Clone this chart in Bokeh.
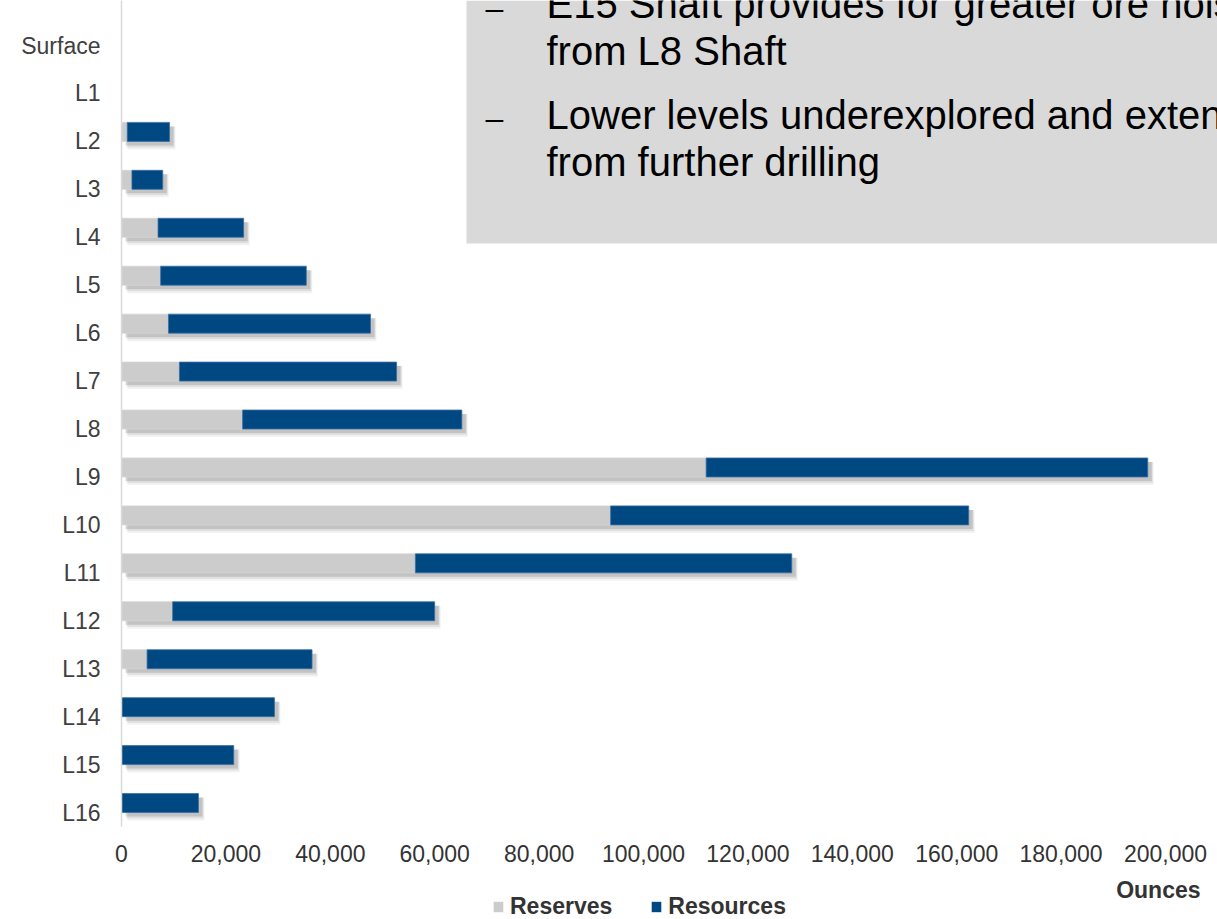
from bokeh.plotting import figure
from bokeh.layouts import column
from bokeh.models import (Range1d, FixedTicker, NumeralTickFormatter, BoxAnnotation,
                          Label, Legend, LegendItem, ColumnDataSource)
from bokeh.embed import file_html
from bokeh.resources import INLINE

# ---------------- data ----------------
levels = ["Surface", "L1", "L2", "L3", "L4", "L5", "L6", "L7", "L8",
          "L9", "L10", "L11", "L12", "L13", "L14", "L15", "L16"]
reserves = [0, 0, 1100, 2000, 7000, 7500, 9000, 11100, 23200,
            112000, 93700, 56300, 9800, 4900, 0, 0, 0]
resources = [0, 0, 8100, 5900, 16400, 27900, 38700, 41600, 42000,
             84600, 68600, 72100, 50200, 31600, 29300, 21500, 14750]
x_ticks = [0, 20000, 40000, 60000, 80000, 100000, 120000, 140000, 160000, 180000, 200000]
box_lines = ["E15 Shaft provides for greater ore hois",
             "from L8 Shaft",
             "Lower levels underexplored and exten",
             "from further drilling"]
series_names = ["Reserves", "Resources"]
series_colors = ["#cccccc", "#004882"]

# ---------------- layout helpers ----------------
W = 1217
H_MAIN, H_FOOT = 876, 43
LEFT, BOTTOM = 121, 50
FRAME_H = H_MAIN - BOTTOM
PX_PER_X = 1044 / 200000.0          # pixels per ounce
PX_PER_Y = 47.94                    # pixels per level
Y_TOP = -45 / PX_PER_Y              # data y at frame top
X_END = (W - LEFT) / PX_PER_X

def X(px):
    return (px - LEFT) / PX_PER_X

def Y(py):
    return Y_TOP + py / PX_PER_Y

BAR_OFFSET = -9.5 / PX_PER_Y
BAR_H = 19 / PX_PER_Y

idx = list(range(len(levels)))
ybar = [i + BAR_OFFSET for i in idx]
total = [a + b for a, b in zip(reserves, resources)]

src = ColumnDataSource(dict(y=ybar, reserves=reserves, resources=resources, total=total))

p = figure(width=W, height=H_MAIN, output_backend="svg", toolbar_location=None,
           x_range=Range1d(0, X_END), y_range=Range1d(Y(FRAME_H), Y_TOP),
           min_border_left=LEFT, min_border_bottom=BOTTOM, min_border_top=0,
           min_border_right=0, outline_line_color=None)
p.xgrid.visible = False
p.ygrid.visible = False

# shadows (soft, layered)
for dx, dy, extra, alpha in [(6, 6, 4, 0.05), (5, 5, 2, 0.08), (4, 4, 0, 0.12)]:
    sh = ColumnDataSource(dict(
        y=[v + dy / PX_PER_Y for v in ybar],
        left=[dx / PX_PER_X if t > 0 else 0 for t in total],
        right=[t + dx / PX_PER_X if t > 0 else 0 for t in total]))
    p.hbar(y="y", left="left", right="right", height=BAR_H + extra / PX_PER_Y,
           source=sh, fill_color="black", fill_alpha=alpha, line_color=None)

rs = p.hbar_stack(["reserves", "resources"], y="y", height=BAR_H, source=src,
                  fill_color=series_colors,
                  line_color=["#d6d6d6", "#3a6ea5"], line_width=0.8)

# overlay text box
box = BoxAnnotation(left=X(466), bottom=Y(243), fill_color="#d9d9d9", fill_alpha=1.0,
                    line_color=None)
p.add_layout(box)

text_x = X(546)
dash_x = X(485)
centers = [3, 50, 114, 161]
for line, cy in zip(box_lines, centers):
    p.add_layout(Label(x=text_x, y=Y(cy), text=line, text_font="Liberation Sans",
                       text_font_size="40px", text_color="black",
                       text_baseline="alphabetic", text_align="left"))
for cy in (7, 117):
    p.add_layout(Label(x=dash_x, y=Y(cy), text="\u2013", text_font="Liberation Sans",
                       text_font_size="32px", text_color="black",
                       text_baseline="alphabetic", text_align="left"))

# axes
p.xaxis.ticker = FixedTicker(ticks=x_ticks)
p.xaxis.formatter = NumeralTickFormatter(format="0,0")
p.xaxis.axis_line_color = None
p.xaxis.major_tick_line_color = None
p.xaxis.minor_tick_line_color = None
p.xaxis.major_tick_out = 0
p.xaxis.major_tick_in = 0
p.xaxis.major_label_standoff = 18
p.xaxis.major_label_text_font = "Liberation Sans"
p.xaxis.major_label_text_font_size = "23px"
p.xaxis.major_label_text_color = "#333333"

p.yaxis.ticker = FixedTicker(ticks=idx)
p.yaxis.major_label_overrides = {i: name for i, name in zip(idx, levels)}
p.yaxis.axis_line_color = "#d9d9d9"
p.yaxis.axis_line_width = 1.5
p.yaxis.major_tick_line_color = None
p.yaxis.minor_tick_line_color = None
p.yaxis.major_tick_out = 0
p.yaxis.major_tick_in = 0
p.yaxis.major_label_standoff = 21
p.yaxis.major_label_text_font = "Liberation Sans"
p.yaxis.major_label_text_font_size = "23px"
p.yaxis.major_label_text_color = "#404040"

# ---------------- footer: axis title + legend ----------------
# footer frame is aligned with the main frame (x from LEFT to W); data units = page pixels
f = figure(width=W, height=H_FOOT, output_backend="svg", toolbar_location=None,
           x_range=Range1d(LEFT, W), y_range=Range1d(H_FOOT, 0),
           x_axis_type=None, y_axis_type=None, min_border=0,
           min_border_left=LEFT, min_border_right=0, outline_line_color=None)
f.grid.visible = False

f.add_layout(Label(x=1200, y=889 - H_MAIN, text="Ounces", text_font="Liberation Sans",
                   text_font_size="23px", text_font_style="bold", text_color="#333333",
                   text_align="right", text_baseline="middle"))

# legend proxies: one zero-length bar each, placed off-canvas
items = []
for name, col in zip(series_names, series_colors):
    r = f.hbar(y=[-1000], left=[LEFT], right=[LEFT], height=1, fill_color=col, line_color=None)
    items.append(LegendItem(label=name, renderers=[r]))
legend = Legend(items=items, orientation="horizontal", location=(492 - LEFT, -1),
                glyph_width=12, glyph_height=13, label_standoff=6, spacing=38,
                padding=0, margin=0, border_line_color=None, background_fill_alpha=0,
                label_text_font="Liberation Sans", label_text_font_size="23px",
                label_text_font_style="bold", label_text_color="#333333")
f.add_layout(legend)

layout = column(p, f, spacing=0)
open("out.html", "w").write(file_html(layout, INLINE))
